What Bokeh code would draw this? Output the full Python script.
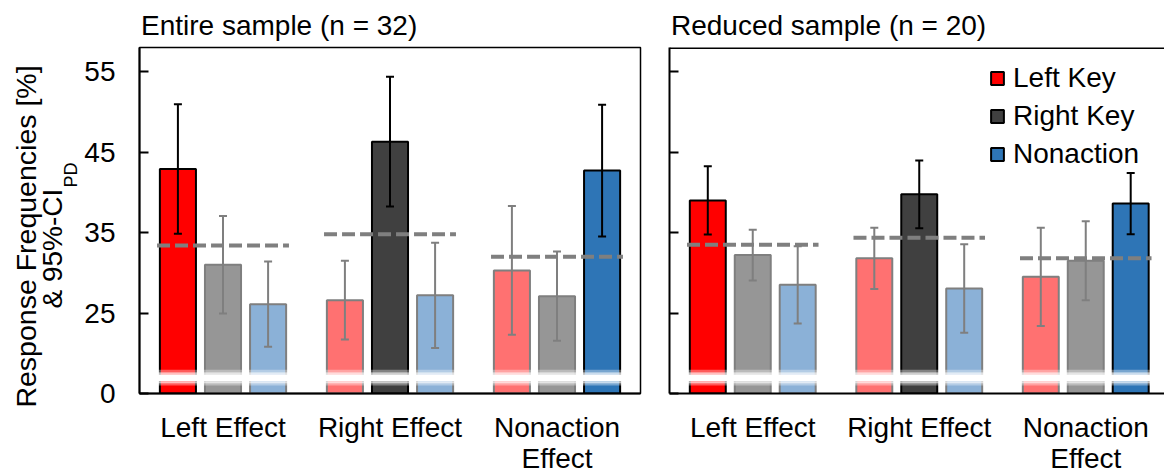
import numpy as np
from bokeh.plotting import figure
from bokeh.models import (ColumnDataSource, Whisker, TeeHead, FixedTicker, Span,
                          Label, Legend, LegendItem, Range1d, Title)
from bokeh.layouts import row
from bokeh.embed import file_html
from bokeh.resources import INLINE

# ---------------- data ----------------
groups = ["Left Effect", "Right Effect", "Nonaction\nEffect"]
series = ["Left Key", "Right Key", "Nonaction"]
titles = ["Entire sample (n = 32)", "Reduced sample (n = 20)"]

entire_left_key = [42.9, 26.6, 30.3]
entire_right_key = [31.0, 46.3, 27.1]
entire_nonaction = [26.1, 27.2, 42.7]
entire_left_key_ci = [8.05, 4.9, 8.0]
entire_right_key_ci = [6.05, 8.05, 5.55]
entire_nonaction_ci = [5.3, 6.55, 8.2]
entire_chance = [33.4, 34.8, 32.0]

reduced_left_key = [39.0, 31.8, 29.5]
reduced_right_key = [32.2, 39.75, 31.5]
reduced_nonaction = [28.5, 28.05, 38.6]
reduced_left_key_ci = [4.25, 3.8, 6.1]
reduced_right_key_ci = [3.15, 4.2, 4.9]
reduced_nonaction_ci = [4.8, 5.5, 3.8]
reduced_chance = [33.5, 34.35, 31.8]

y_tick_labels = [0, 25, 35, 45, 55]

# ---------------- style ----------------
FONT = "Liberation Sans"
BREAK_AT = 15          # axis position where the broken axis shows "0"
Y_TOP = 58
strong_colors = ["#FF0000", "#404040", "#2E75B6"]
light_colors = ["#FF7171", "#969696", "#8BB1D7"]
GRAY = "#7F7F7F"
offsets = [-0.27, 0.0, 0.27]
BAR_W = 0.216


def tick_pos(t):
    return BREAK_AT if t == 0 else t


def make_panel(vals, cis, chance, title, width, b_left, b_right, x_end, first):
    p = figure(width=width, height=476, x_range=Range1d(-0.5, x_end),
               y_range=Range1d(BREAK_AT, Y_TOP), output_backend="svg",
               toolbar_location=None, min_border_left=b_left, min_border_right=b_right,
               min_border_top=47, min_border_bottom=79)
    p.grid.visible = False
    p.background_fill_color = "white"
    p.border_fill_color = "white"

    p.title = Title(text=title, text_font=FONT, text_font_size="28px",
                    text_font_style="normal", text_color="black", align="left",
                    offset=1.5, standoff=14)

    rows = {True: dict(x=[], top=[], upper=[], lower=[], color=[]),
            False: dict(x=[], top=[], upper=[], lower=[], color=[])}
    for s in range(3):
        for g in range(3):
            strong = (s == g)
            d = rows[strong]
            d["x"].append(g + offsets[s])
            d["top"].append(vals[s][g])
            d["upper"].append(vals[s][g] + cis[s][g])
            d["lower"].append(vals[s][g] - cis[s][g])
            d["color"].append(strong_colors[s] if strong else light_colors[s])
    src_light = ColumnDataSource(rows[False])
    src_strong = ColumnDataSource(rows[True])

    p.vbar(x="x", top="top", bottom=BREAK_AT, width=BAR_W, source=src_light,
           fill_color="color", line_color=GRAY, line_width=2)
    r_strong = p.vbar(x="x", top="top", bottom=BREAK_AT, width=BAR_W, source=src_strong,
                      fill_color="color", line_color="black", line_width=2)

    # axis-break band (white, feathered)
    bands = [(16.0, 16.25, 0.35), (16.25, 16.5, 0.75), (16.5, 17.4, 1.0),
             (17.4, 17.65, 0.75), (17.65, 17.95, 0.35)]
    p.quad(left=-0.42, right=2.42, bottom=[b[0] for b in bands], top=[b[1] for b in bands],
           fill_color="white", fill_alpha=[b[2] for b in bands], line_color=None)

    # chance level dashed lines
    gx = np.arange(3)
    p.segment(x0=gx - 0.395, x1=gx + 0.395, y0=chance, y1=chance,
              line_color=GRAY, line_width=4, line_dash="13 5")

    for src, col in ((src_light, GRAY), (src_strong, "black")):
        w = Whisker(source=src, base="x", upper="upper", lower="lower",
                    line_color=col, line_width=2, level="annotation",
                    upper_head=TeeHead(size=8, line_color=col, line_width=2),
                    lower_head=TeeHead(size=8, line_color=col, line_width=2))
        p.add_layout(w)

    # axes
    xa = p.xaxis[0]
    xa.ticker = FixedTicker(ticks=list(range(len(groups))))
    xa.major_label_overrides = {i: g for i, g in enumerate(groups)}
    xa.major_tick_line_color = None
    xa.major_tick_in = 0
    xa.major_tick_out = 0
    xa.minor_tick_line_color = None
    xa.axis_line_width = 2
    xa.axis_line_color = "black"
    xa.major_label_text_font = FONT
    xa.major_label_text_font_size = "28px"
    xa.major_label_text_color = "black"
    xa.major_label_standoff = 18
    xa.major_label_text_line_height = 1.0

    ya = p.yaxis[0]
    ya.ticker = FixedTicker(ticks=[tick_pos(t) for t in y_tick_labels])
    ya.major_tick_in = 9
    ya.major_tick_out = 0
    ya.major_tick_line_width = 2
    ya.major_tick_line_color = "black"
    ya.minor_tick_line_color = None
    ya.axis_line_width = 2
    ya.axis_line_color = "black"
    ya.major_label_text_font = FONT
    ya.major_label_text_color = "black"
    ya.major_label_text_font_size = "28px"
    if first:
        ya.major_label_overrides = {tick_pos(t): str(t) for t in y_tick_labels}
        ya.major_label_standoff = 24
        p.outline_line_color = "black"
        p.outline_line_width = 1.5
    else:
        ya.major_label_overrides = {tick_pos(t): "" for t in y_tick_labels}
        ya.major_label_standoff = 0
        p.outline_line_color = None
        p.add_layout(Span(location=Y_TOP, dimension="width", line_color="black",
                          line_width=3))
    return p, r_strong


# y-axis label figure (two lines, with subscript); its frame is the whole figure
LW = 80
p0 = figure(width=LW, height=476, x_range=Range1d(0, LW), y_range=Range1d(0, 476),
            output_backend="svg", toolbar_location=None, min_border=0, title=None)
p0.frame_align = False
p0.axis.visible = False
p0.grid.visible = False
p0.outline_line_color = None
p0.background_fill_color = "white"
p0.border_fill_color = "white"
lab_kw = dict(angle=np.pi / 2, text_font=FONT, text_color="black",
              text_baseline="middle")
p0.add_layout(Label(x=25, y=476 - 236, text="Response Frequencies [%]",
                    text_font_size="28.5px", text_align="center", **lab_kw))
p0.add_layout(Label(x=52, y=476 - 308, text="& 95%-CI", text_font_size="28px",
                    text_align="left", **lab_kw))
p0.add_layout(Label(x=70, y=476 - 187, text="PD", text_font_size="18px",
                    text_align="left", **lab_kw))

p1, _ = make_panel([entire_left_key, entire_right_key, entire_nonaction],
                   [entire_left_key_ci, entire_right_key_ci, entire_nonaction_ci],
                   entire_chance, titles[0], 655 - LW, 139 - LW, 15, 2.5, True)
p2, r2 = make_panel([reduced_left_key, reduced_right_key, reduced_nonaction],
                    [reduced_left_key_ci, reduced_right_key_ci, reduced_nonaction_ci],
                    reduced_chance, titles[1], 509, 14, 0, 2.473, False)

legend = Legend(items=[LegendItem(label=series[i], renderers=[r2], index=i) for i in range(3)],
                location=(320, 223), label_text_font=FONT, label_text_font_size="28px",
                label_text_color="black", glyph_width=16, glyph_height=16, label_standoff=8,
                spacing=6, padding=0, margin=0, border_line_color=None,
                background_fill_alpha=0)
p2.add_layout(legend)

layout = row(p0, p1, p2)
open("out.html", "w").write(file_html(layout, INLINE))
